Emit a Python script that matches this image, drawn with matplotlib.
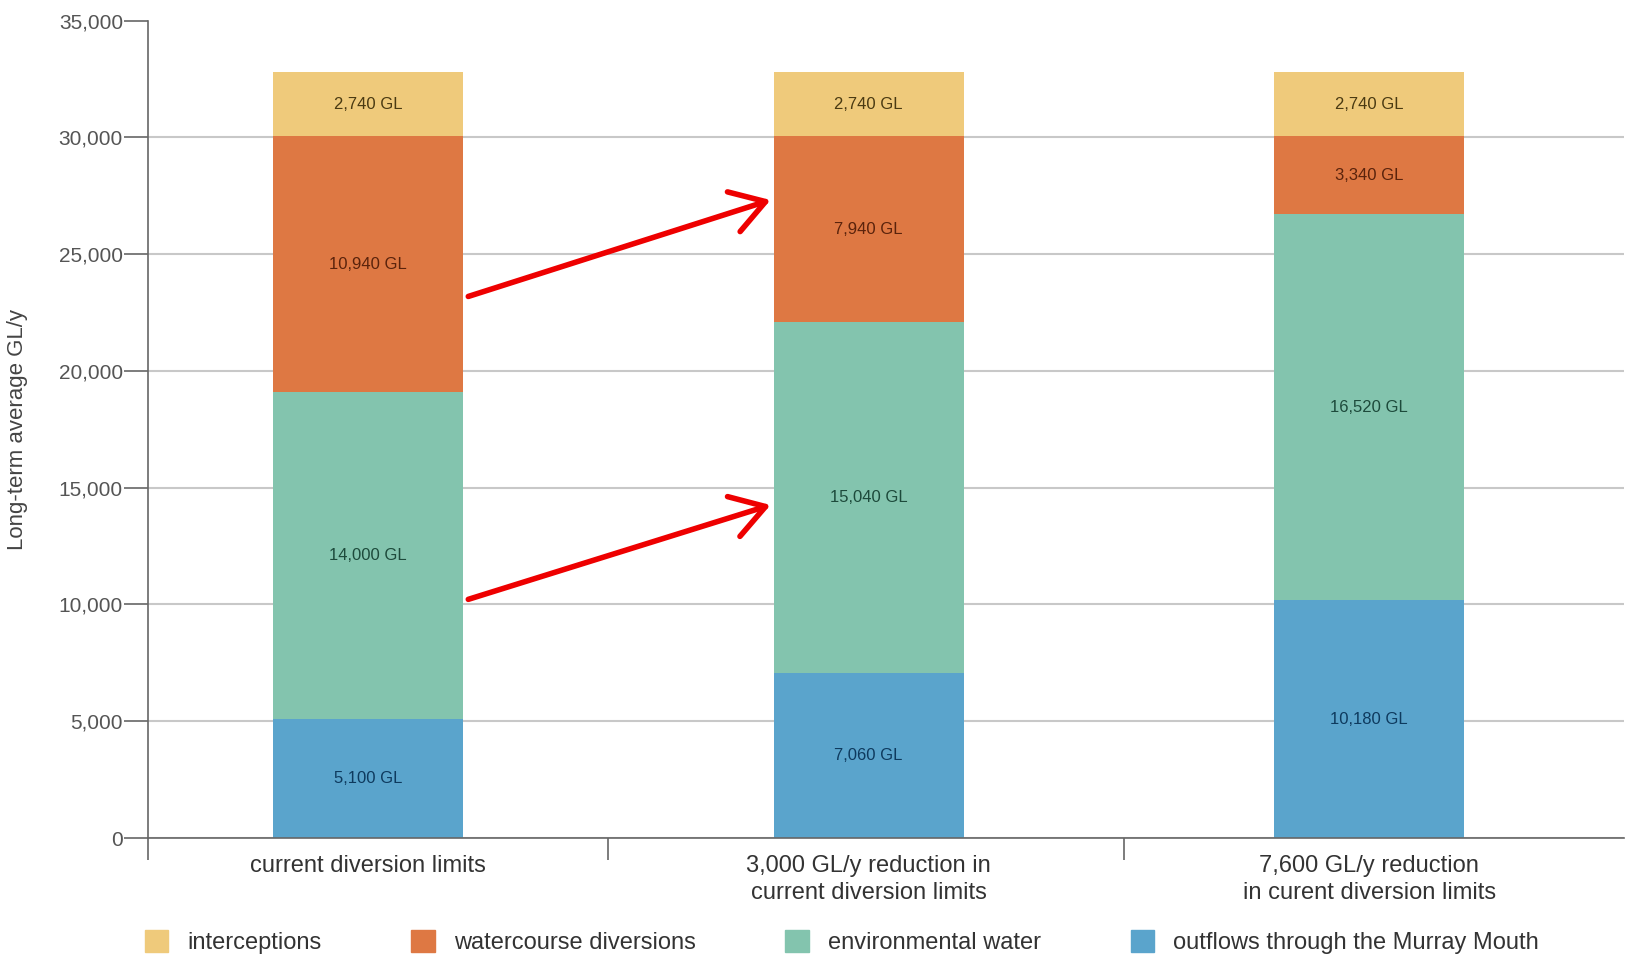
import numpy as np
import matplotlib
matplotlib.use("Agg")

matplotlib.rcParams['font.family'] = ['Liberation Sans Narrow', 'Liberation Sans', 'DejaVu Sans']
matplotlib.rcParams['font.size'] = 16

import matplotlib.pyplot as plt
from matplotlib.patches import Patch

# data (GL/y)
categories = ["current diversion limits",
              "3,000 GL/y reduction in\ncurrent diversion limits",
              "7,600 GL/y reduction\nin curent diversion limits"]
outflows = [5100, 7060, 10180]
environmental = [14000, 15040, 16520]
diversions = [10940, 7940, 3340]
interceptions = [2740, 2740, 2740]

series_names = ["outflows through the Murray Mouth", "environmental water",
                "watercourse diversions", "interceptions"]
series = [outflows, environmental, diversions, interceptions]
colors = ["#5aa4cc", "#83c4ae", "#de7843", "#efca7b"]
text_colors = ["#0e3a5e", "#1d4a3b", "#5a230c", "#4a3a12"]

fig = plt.figure(figsize=(16.26, 9.56), dpi=100)
ax = fig.add_axes([0.091, 0.1234, 0.908, 0.855])

x = np.arange(len(categories))
width = 0.38
bottom = np.zeros(len(categories))
for vals, c, tc in zip(series, colors, text_colors):
    vals = np.array(vals)
    ax.bar(x, vals, width, bottom=bottom, color=c, zorder=2)
    for xi, b, v in zip(x, bottom, vals):
        ax.text(xi, b + v / 2, f"{v:,} GL", ha="center", va="center",
                fontsize=12, color=tc, zorder=3)
    bottom += vals

# red arrows between bars
arrow_from = [(0.2, 23190), (0.2, 10220)]
arrow_to = [(0.804, 27320), (0.804, 14260)]
for s, e in zip(arrow_from, arrow_to):
    ax.annotate("", xy=e, xytext=s,
                arrowprops=dict(arrowstyle="->,head_length=0.8,head_width=0.5",
                                color="#ee0000", lw=4, mutation_scale=30,
                                shrinkA=0, shrinkB=0), zorder=4)

ax.set_xlim(-0.44, 2.51)
ax.set_ylim(0, 35000)
ax.set_yticks(np.arange(0, 35001, 5000))
ax.set_yticklabels([f"{v:,}" for v in range(0, 35001, 5000)], color="#555555", fontsize=15)
ax.tick_params(axis="y", length=17, width=1.2, color="#666666", pad=1)
ax.yaxis.grid(True, color="#c8c8c8", lw=1.5, zorder=0)
for gl in ax.yaxis.get_gridlines()[-1:]:
    gl.set_visible(False)

ax.set_xticks(x)
ax.set_xticklabels(categories, fontsize=17, color="#333333", linespacing=1.3)
ax.tick_params(axis="x", which="major", length=0, pad=12)
ax.set_xticks([-0.44, 0.48, 1.51], minor=True)
ax.tick_params(axis="x", which="minor", length=16, width=1.2, color="#666666")

ax.set_ylabel("Long-term average GL/y", fontsize=16, color="#444444", labelpad=22)
for s in ["top", "right"]:
    ax.spines[s].set_visible(False)
for s in ["left", "bottom"]:
    ax.spines[s].set_color("#666666")
    ax.spines[s].set_linewidth(1.2)

handles = [Patch(color=c) for c in colors[::-1]]
fig.legend(handles, series_names[::-1], loc="lower left",
           bbox_to_anchor=(0.076, -0.02), ncol=4, frameon=False, fontsize=17,
           handlelength=1.0, handleheight=1.1, handletextpad=0.8,
           columnspacing=3.8, labelcolor="#333333")

fig.savefig("out.png", dpi=100)
